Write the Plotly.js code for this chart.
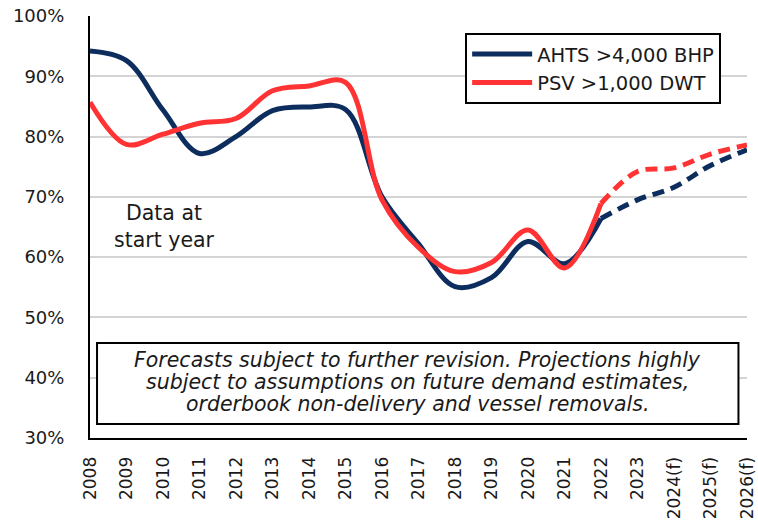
<!DOCTYPE html>
<html>
<head>
<meta charset="utf-8">
<script src="https://cdn.plot.ly/plotly-3.0.1.min.js"></script>
<style>html,body{margin:0;padding:0;background:#fff;}#chart{width:758px;height:530px;}</style>
</head>
<body>
<div id="chart"></div>
<script>
// Categories (years, f = forecast)
const years = ['2008','2009','2010','2011','2012','2013','2014','2015','2016','2017','2018','2019','2020','2021','2022','2023','2024(f)','2025(f)','2026(f)'];
// Utilisation (%) — AHTS >4,000 BHP
const ahts = [94.2, 92.6, 84.4, 77.2, 80.0, 84.3, 84.9, 84.5, 70.0, 62.2, 55.1, 56.6, 62.6, 58.9, 66.4, 69.5, 71.6, 75.2, 77.8];
// Utilisation (%) — PSV >1,000 DWT
const psv = [85.7, 78.7, 80.4, 82.2, 83.0, 87.6, 88.4, 89.0, 69.5, 61.6, 57.6, 59.1, 64.5, 58.2, 68.9, 74.2, 74.8, 77.1, 78.6];
// Index where forecast (dashed) segment begins
const forecastStart = 14;
const yTicks = [30, 40, 50, 60, 70, 80, 90, 100];
const yTickText = yTicks.map(v => v + '%');
// Note text lines
const noteLines = [
  'Forecasts subject to further revision. Projections highly',
  'subject to assumptions on future demand estimates,',
  'orderbook non-delivery and vessel removals.'
];

const navy = '#0c2d5e';
const red = '#ff3333';
const font = '"DejaVu Sans", sans-serif';

function seg(arr, a, b){ return arr.slice(a, b); }

const traces = [
  {x: seg(years,0,forecastStart+1), y: seg(ahts,0,forecastStart+1), name: 'AHTS >4,000 BHP', mode:'lines',
   line:{color:navy, width:5, shape:'spline', smoothing:1}},
  {x: seg(years,0,forecastStart+1), y: seg(psv,0,forecastStart+1), name: 'PSV >1,000 DWT', mode:'lines',
   line:{color:red, width:5, shape:'spline', smoothing:1}},
  {x: seg(years,forecastStart), y: seg(ahts,forecastStart), name: 'AHTS forecast', mode:'lines', showlegend:false,
   line:{color:navy, width:5, shape:'spline', smoothing:1, dash:'12px,7px'}},
  {x: seg(years,forecastStart), y: seg(psv,forecastStart), name: 'PSV forecast', mode:'lines', showlegend:false,
   line:{color:red, width:5, shape:'spline', smoothing:1, dash:'12px,7px'}}
];

const noteY = [0.1848, 0.1327, 0.0806];
const noteAnns = noteLines.map((t, i) => ({
  xref:'paper', yref:'paper', x: 0.498, y: noteY[i], xanchor:'center', yanchor:'middle',
  text: '<i>' + t + '</i>', showarrow:false,
  font:{family: font, size: 20.5, color:'#1a1a1a'}
}));

const layout = {
  width: 758, height: 530,
  margin: {l: 90, r: 11, t: 16, b: 92},
  paper_bgcolor: '#fff', plot_bgcolor: '#fff',
  font: {family: font, size: 16, color: '#1a1a1a'},
  showlegend: true,
  legend: {
    x: 0.571, y: 0.96, xanchor: 'left', yanchor: 'top',
    bordercolor: '#000', borderwidth: 2, bgcolor: '#fff',
    font: {family: font, size: 19.5, color: '#1a1a1a'},
    tracegroupgap: 0, itemwidth: 60
  },
  xaxis: {
    type: 'category', categoryorder: 'array', categoryarray: years,
    range: [0, years.length - 1],
    showgrid: false, zeroline: false,
    showline: true, linecolor: '#000', linewidth: 2,
    ticks: '', tickangle: -90, ticklabelstandoff: 10,
    tickfont: {family: font, size: 17, color: '#1a1a1a'}
  },
  yaxis: {
    range: [30, 100], tickmode: 'array', tickvals: yTicks, ticktext: yTickText,
    showgrid: true, gridcolor: '#d4d4d4', gridwidth: 2,
    zeroline: false, showline: true, linecolor: '#000', linewidth: 2,
    ticks: '', ticklabelstandoff: 20,
    tickfont: {family: font, size: 18, color: '#1a1a1a'}
  },
  shapes: [
    {type:'rect', xref:'paper', yref:'paper', x0: 0.0107, x1: 0.987, y0: 0.0332, y1: 0.225,
     line:{color:'#000', width:2}, fillcolor:'#fff', layer:'above'}
  ],
  annotations: [
    {xref:'paper', yref:'paper', x: 0.114, y: 0.502, xanchor:'center', yanchor:'middle',
     text: 'Data at<br>start year', showarrow:false, align:'center',
     font:{family: font, size: 20.5, color:'#1a1a1a'}}
  ].concat(noteAnns)
};

Plotly.newPlot('chart', traces, layout, {staticPlot: true, displayModeBar: false});
</script>
</body>
</html>
